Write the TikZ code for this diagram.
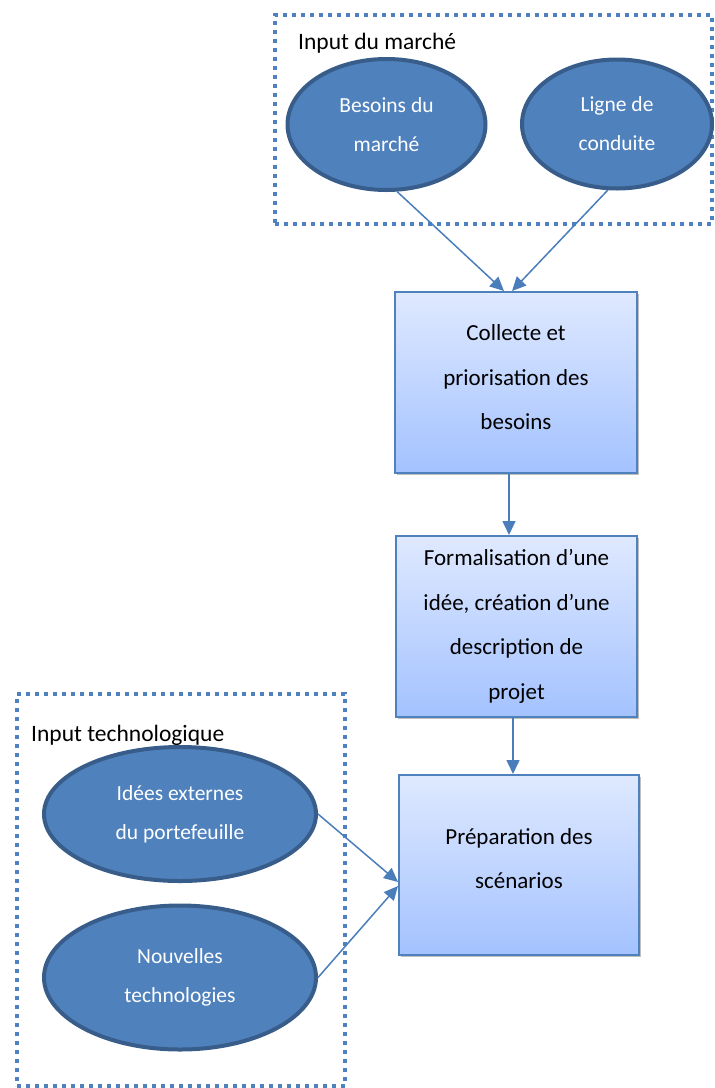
\documentclass[tikz,border=0pt]{standalone}
\usepackage{fontspec}
\setmainfont{Carlito}
\usetikzlibrary{shapes.geometric,arrows.meta,shadows}
\definecolor{ellfill}{HTML}{4F81BD}
\definecolor{elldraw}{HTML}{385D8A}
\definecolor{boxdraw}{HTML}{4F81BD}
\definecolor{boxtop}{HTML}{DFE9FF}
\definecolor{boxbot}{HTML}{A3C2FF}
\definecolor{arrcol}{HTML}{4A7EBB}
\definecolor{dotcol}{HTML}{4F80BF}
\tikzset{
  ell/.style={ellipse, fill=ellfill, draw=elldraw, line width=4pt, inner sep=0pt, text=white, align=center,
    font=\fontsize{21.5}{39}\selectfont},
  procbox/.style={rectangle, draw=boxdraw, line width=2pt, top color=boxtop, bottom color=boxbot,
    shading angle=0, align=center, inner sep=0pt, font=\fontsize{23}{44.5}\selectfont,
    drop shadow={shadow xshift=2pt, shadow yshift=-2pt, opacity=0.25, fill=black}},
  dotbox/.style={rectangle, draw=dotcol, line width=4pt, dash pattern=on 4pt off 5pt, inner sep=0pt},
  grplabel/.style={anchor=base west, inner sep=0pt, font=\fontsize{23.5}{28}\selectfont},
  arr/.style={draw=arrcol, line width=1.5pt, -{Triangle[length=14pt,width=13pt]}}
}
\begin{document}
\begin{tikzpicture}[x=1pt,y=-1pt]
\useasboundingbox (0,0) rectangle (715,1088);
% group boxes
\node[dotbox, minimum width=437pt, minimum height=209pt] (g1) at (493.5,119) {};
\node[dotbox, minimum width=328pt, minimum height=392pt] (g2) at (181,890) {};
\node[grplabel] (l1) at (298,49) {Input du march\'e};
\node[grplabel] (l2) at (31,741) {Input technologique};
% ellipses
\node[ell, minimum width=198pt, minimum height=131pt] (e1) at (386.5,124.5) {Besoins du\\march\'e};
\node[ell, minimum width=190pt, minimum height=129pt] (e2) at (617,124) {Ligne de\\conduite};
\node[ell, minimum width=272pt, minimum height=134pt] (e3) at (180,814) {Id\'ees externes\\du portefeuille};
\node[ell, minimum width=272pt, minimum height=144pt] (e4) at (180,977.5) {Nouvelles\\technologies};
% process boxes
\node[procbox, minimum width=242pt, minimum height=181pt] (b1) at (516,382.5) {Collecte et\\priorisation des\\besoins\\[-34.5pt]\mbox{}};
\node[procbox, minimum width=241pt, minimum height=181pt] (b2) at (516.5,626.5) {Formalisation d’une\\id\'ee, cr\'eation d’une\\description de\\projet};
\node[procbox, minimum width=240pt, minimum height=180pt] (b3) at (519,865) {Pr\'eparation des\\sc\'enarios\\[-32pt]\mbox{}};
% connectors
\draw[arr] (e1.-81) -- ([xshift=-12pt]b1.north);
\draw[arr] (e2.-98) -- ([xshift=-4pt]b1.north);
\draw[arr] ([xshift=-7pt]b1.south) -- ([xshift=-7pt]b1.south |- b2.north);
\draw[arr] ([xshift=-3.5pt]b2.south) -- ([xshift=-3.5pt]b2.south |- b3.north);
\draw[arr] (e3.east) -- ([yshift=-17pt]b3.west);
\draw[arr] (e4.east) -- ([yshift=-21pt]b3.west);
\end{tikzpicture}
\end{document}
